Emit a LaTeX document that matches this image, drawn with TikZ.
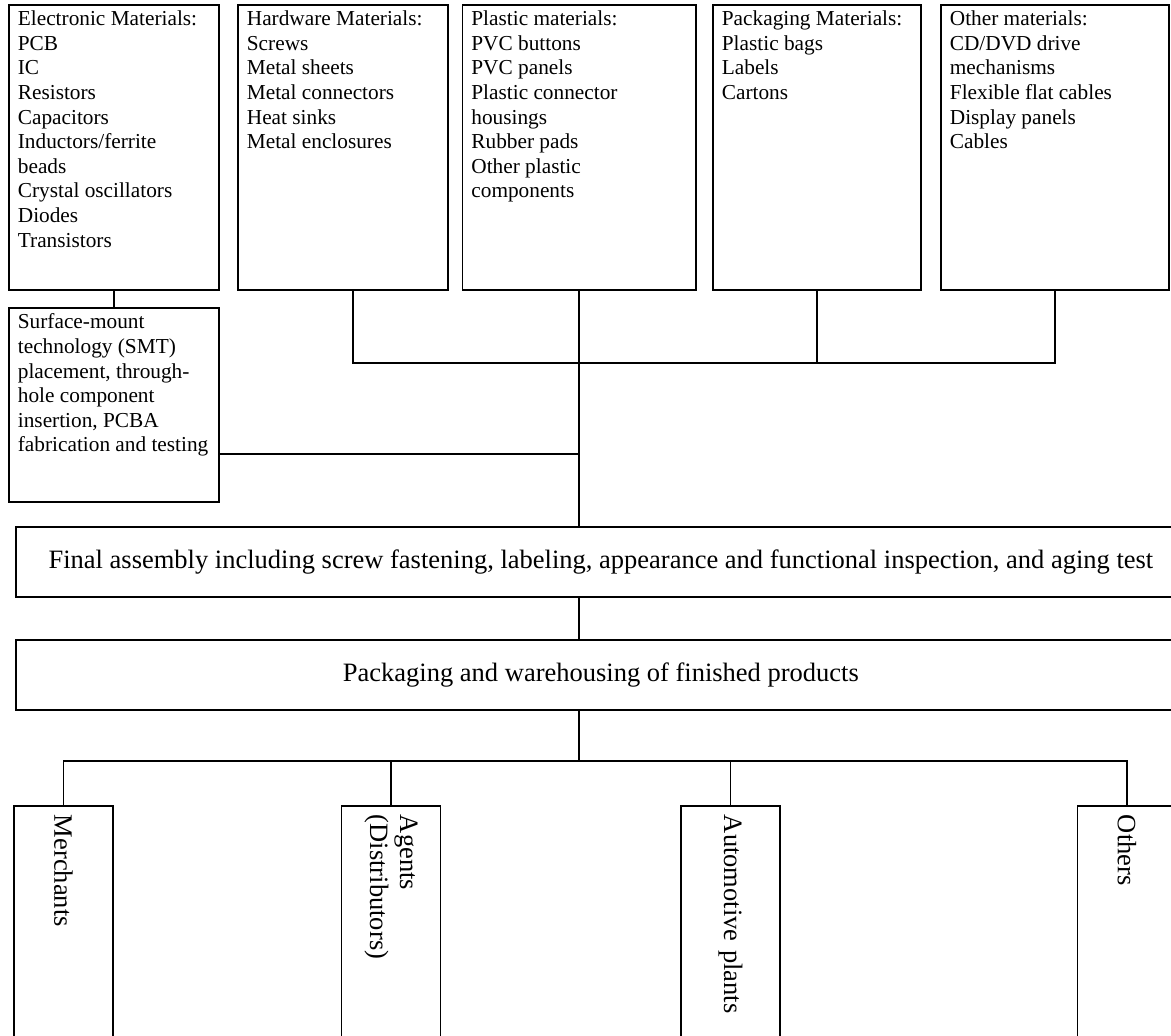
\documentclass[tikz,border=0pt]{standalone}
\usepackage{fontspec}
\setmainfont{Liberation Serif}
\newcommand{\boxtext}[3]{\parbox[c][#2][t]{#1}{\raggedright #3}}
\begin{document}
\begin{tikzpicture}[x=1pt,y=-1pt]
    % --- styles ---
    \tikzset{
      matbox/.style={draw,line width=1.8pt,anchor=north west,inner xsep=9pt,inner ysep=6pt,
        font=\fontsize{21.3}{24.6}\selectfont},
      stepbox/.style={draw,line width=1.8pt,anchor=north west,minimum height=70pt,
        minimum width=1170pt,font=\fontsize{26.5}{30}\selectfont},
      buyerbox/.style={draw,line width=1.8pt,rotate=-90,anchor=west,minimum height=99pt,
        text width=240pt,align=left,inner xsep=9pt,font=\fontsize{26.5}{30}\selectfont},
      link/.style={line width=1.8pt}
    }
    \useasboundingbox (0,0) rectangle (1171,1036);

    % raw materials (top row)
    \node (elec) [matbox] at (8,4) {\boxtext{192pt}{273pt}{Electronic Materials:\\PCB\\IC\\Resistors\\Capacitors\\Inductors/ferrite\\beads\\Crystal oscillators\\Diodes\\Transistors}};
    \node (hard) [matbox] at (237,4) {\boxtext{192pt}{273pt}{Hardware Materials:\\Screws\\Metal sheets\\Metal connectors\\Heat sinks\\Metal enclosures}};
    \node (plas) [matbox] at (461.5,4) {\boxtext{215.5pt}{273pt}{Plastic materials:\\PVC buttons\\PVC panels\\Plastic connector\\housings\\Rubber pads\\Other plastic\\components}};
    \node (pack) [matbox] at (712,4) {\boxtext{190pt}{273pt}{Packaging Materials:\\Plastic bags\\Labels\\Cartons}};
    \node (other) [matbox] at (940,4) {\boxtext{210pt}{273pt}{Other materials:\\CD/DVD drive\\mechanisms\\Flexible flat cables\\Display panels\\Cables}};

    % PCBA step
    \node (smt) [matbox] at (8,307) {\boxtext{192pt}{182pt}{Surface-mount\\technology (SMT)\\placement, through-\\hole component\\insertion, PCBA\\fabrication and testing}};

    % process steps
    \node (final) [stepbox] at (15,526) {Final assembly including screw fastening, labeling, appearance and functional inspection, and aging test};
    \node (packing) [stepbox] at (15,639) {Packaging and warehousing of finished products};

    % customers (rotated boxes)
    \node (merch) [buyerbox] at (63.5,805) {Merchants};
    \node (agent) [buyerbox] at (391,805) {Agents\\(Distributors)};
    \node (auto) [buyerbox] at (730.5,805) {Automotive plants};
    \node (others) [buyerbox] at (1127,805) {Others};

    % connectors
    \coordinate (topbus) at (plas.south |- 0,363);
    \coordinate (lowbus) at (plas.south |- 0,761);
    \draw[link] (elec.south) -- (smt.north);
    \draw[link] ([xshift=10pt]hard.south) |- (topbus);
    \draw[link] (pack.south) -- (pack.south |- topbus);
    \draw[link] (other.south) |- (topbus);
    \draw[link] (plas.south) -- (plas.south |- final.north);
    \draw[link] ([yshift=-49pt]smt.east) -- ([yshift=-49pt]smt.east -| plas.south);
    \draw[link] (plas.south |- final.south) -- (plas.south |- packing.north);
    \draw[link] (plas.south |- packing.south) -- (lowbus);
    \draw[link] (merch.west) |- (others.west |- lowbus) -- (others.west);
    \draw[link] (agent.west) -- (agent.west |- lowbus);
    \draw[link] (auto.west) -- (auto.west |- lowbus);
\end{tikzpicture}
\end{document}
